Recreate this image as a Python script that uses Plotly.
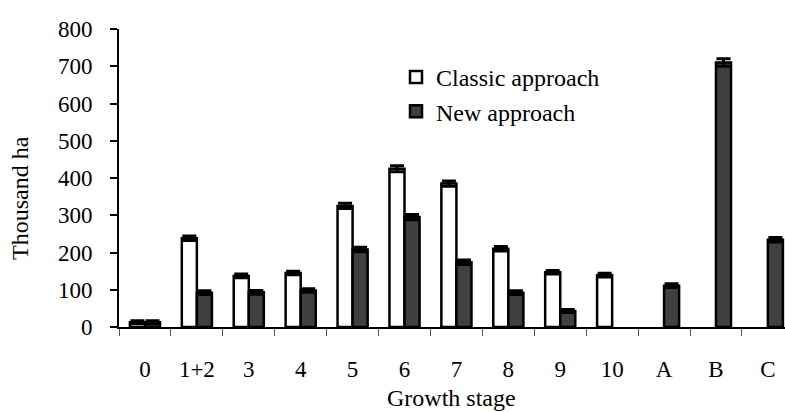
import plotly.graph_objects as go

stages = ["0", "1+2", "3", "4", "5", "6", "7", "8", "9", "10", "A", "B", "C"]
classic = [13, 238, 137, 145, 325, 425, 385, 210, 147, 139, None, None, None]
classic_err = [4, 6, 5, 5, 7, 8, 7, 6, 5, 5, 0, 0, 0]
new = [13, 92, 93, 98, 208, 295, 174, 92, 43, None, 111, 710, 234]
new_err = [4, 5, 5, 5, 6, 7, 6, 5, 4, 0, 5, 10, 6]

FONT = "Liberation Serif"
W, H = 785, 412
L, R, T, B = 119, 0, 29, 85

fig = go.Figure()
fig.add_trace(go.Bar(
    name="Classic approach", x=stages, y=classic,
    marker=dict(color="white", line=dict(color="black", width=2.5)),
    error_y=dict(type="data", array=classic_err, visible=True,
                 color="black", thickness=3, width=7),
))
fig.add_trace(go.Bar(
    name="New approach", x=stages, y=new,
    marker=dict(color="#404040", line=dict(color="black", width=2.5)),
    error_y=dict(type="data", array=new_err, visible=True,
                 color="black", thickness=3, width=7),
))

pw = W - L - R
ph = H - T - B

fig.update_layout(
    width=W, height=H,
    margin=dict(l=L, r=R, t=T, b=B, pad=0, autoexpand=False),
    paper_bgcolor="white", plot_bgcolor="white",
    barmode="group", bargap=0.42, bargroupgap=0,
    font=dict(family=FONT, size=23, color="black"),
    showlegend=True,
    legend=dict(x=(396 - L) / pw, y=(327 - 55) / ph, xanchor="left", yanchor="top",
                font=dict(family=FONT, size=24, color="black"),
                bgcolor="rgba(0,0,0,0)", tracegroupgap=4),
    xaxis=dict(type="category", range=[-0.5, 12.33], showline=True,
               linecolor="black", linewidth=2, ticks="outside", ticklen=7,
               tickwidth=1, tickcolor="#555", tickson="boundaries",
               showgrid=False, zeroline=False, ticklabelstandoff=20,
               automargin=False,
               tickfont=dict(family=FONT, size=23, color="black")),
    yaxis=dict(range=[0, 800], dtick=100, showline=True, linecolor="black",
               linewidth=2, ticks="outside", ticklen=7, tickwidth=1.5,
               tickcolor="black", showgrid=False, zeroline=False,
               ticklabelstandoff=13, automargin=False,
               tickfont=dict(family=FONT, size=23, color="black")),
    annotations=[
        dict(text="Growth stage", x=(451 - L) / pw, y=(327 - 398) / ph,
             xref="paper", yref="paper", showarrow=False,
             xanchor="center", yanchor="middle",
             font=dict(family=FONT, size=24, color="black")),
        dict(text="Thousand ha", x=(20 - L) / pw, y=(327 - 198) / ph,
             xref="paper", yref="paper", showarrow=False, textangle=-90,
             xanchor="center", yanchor="middle",
             font=dict(family=FONT, size=24, color="black")),
    ],
)

fig.write_html(
    "out.html",
    config={"displayModeBar": False},
    post_script="document.body.style.margin='0';document.body.style.overflow='hidden';",
)
